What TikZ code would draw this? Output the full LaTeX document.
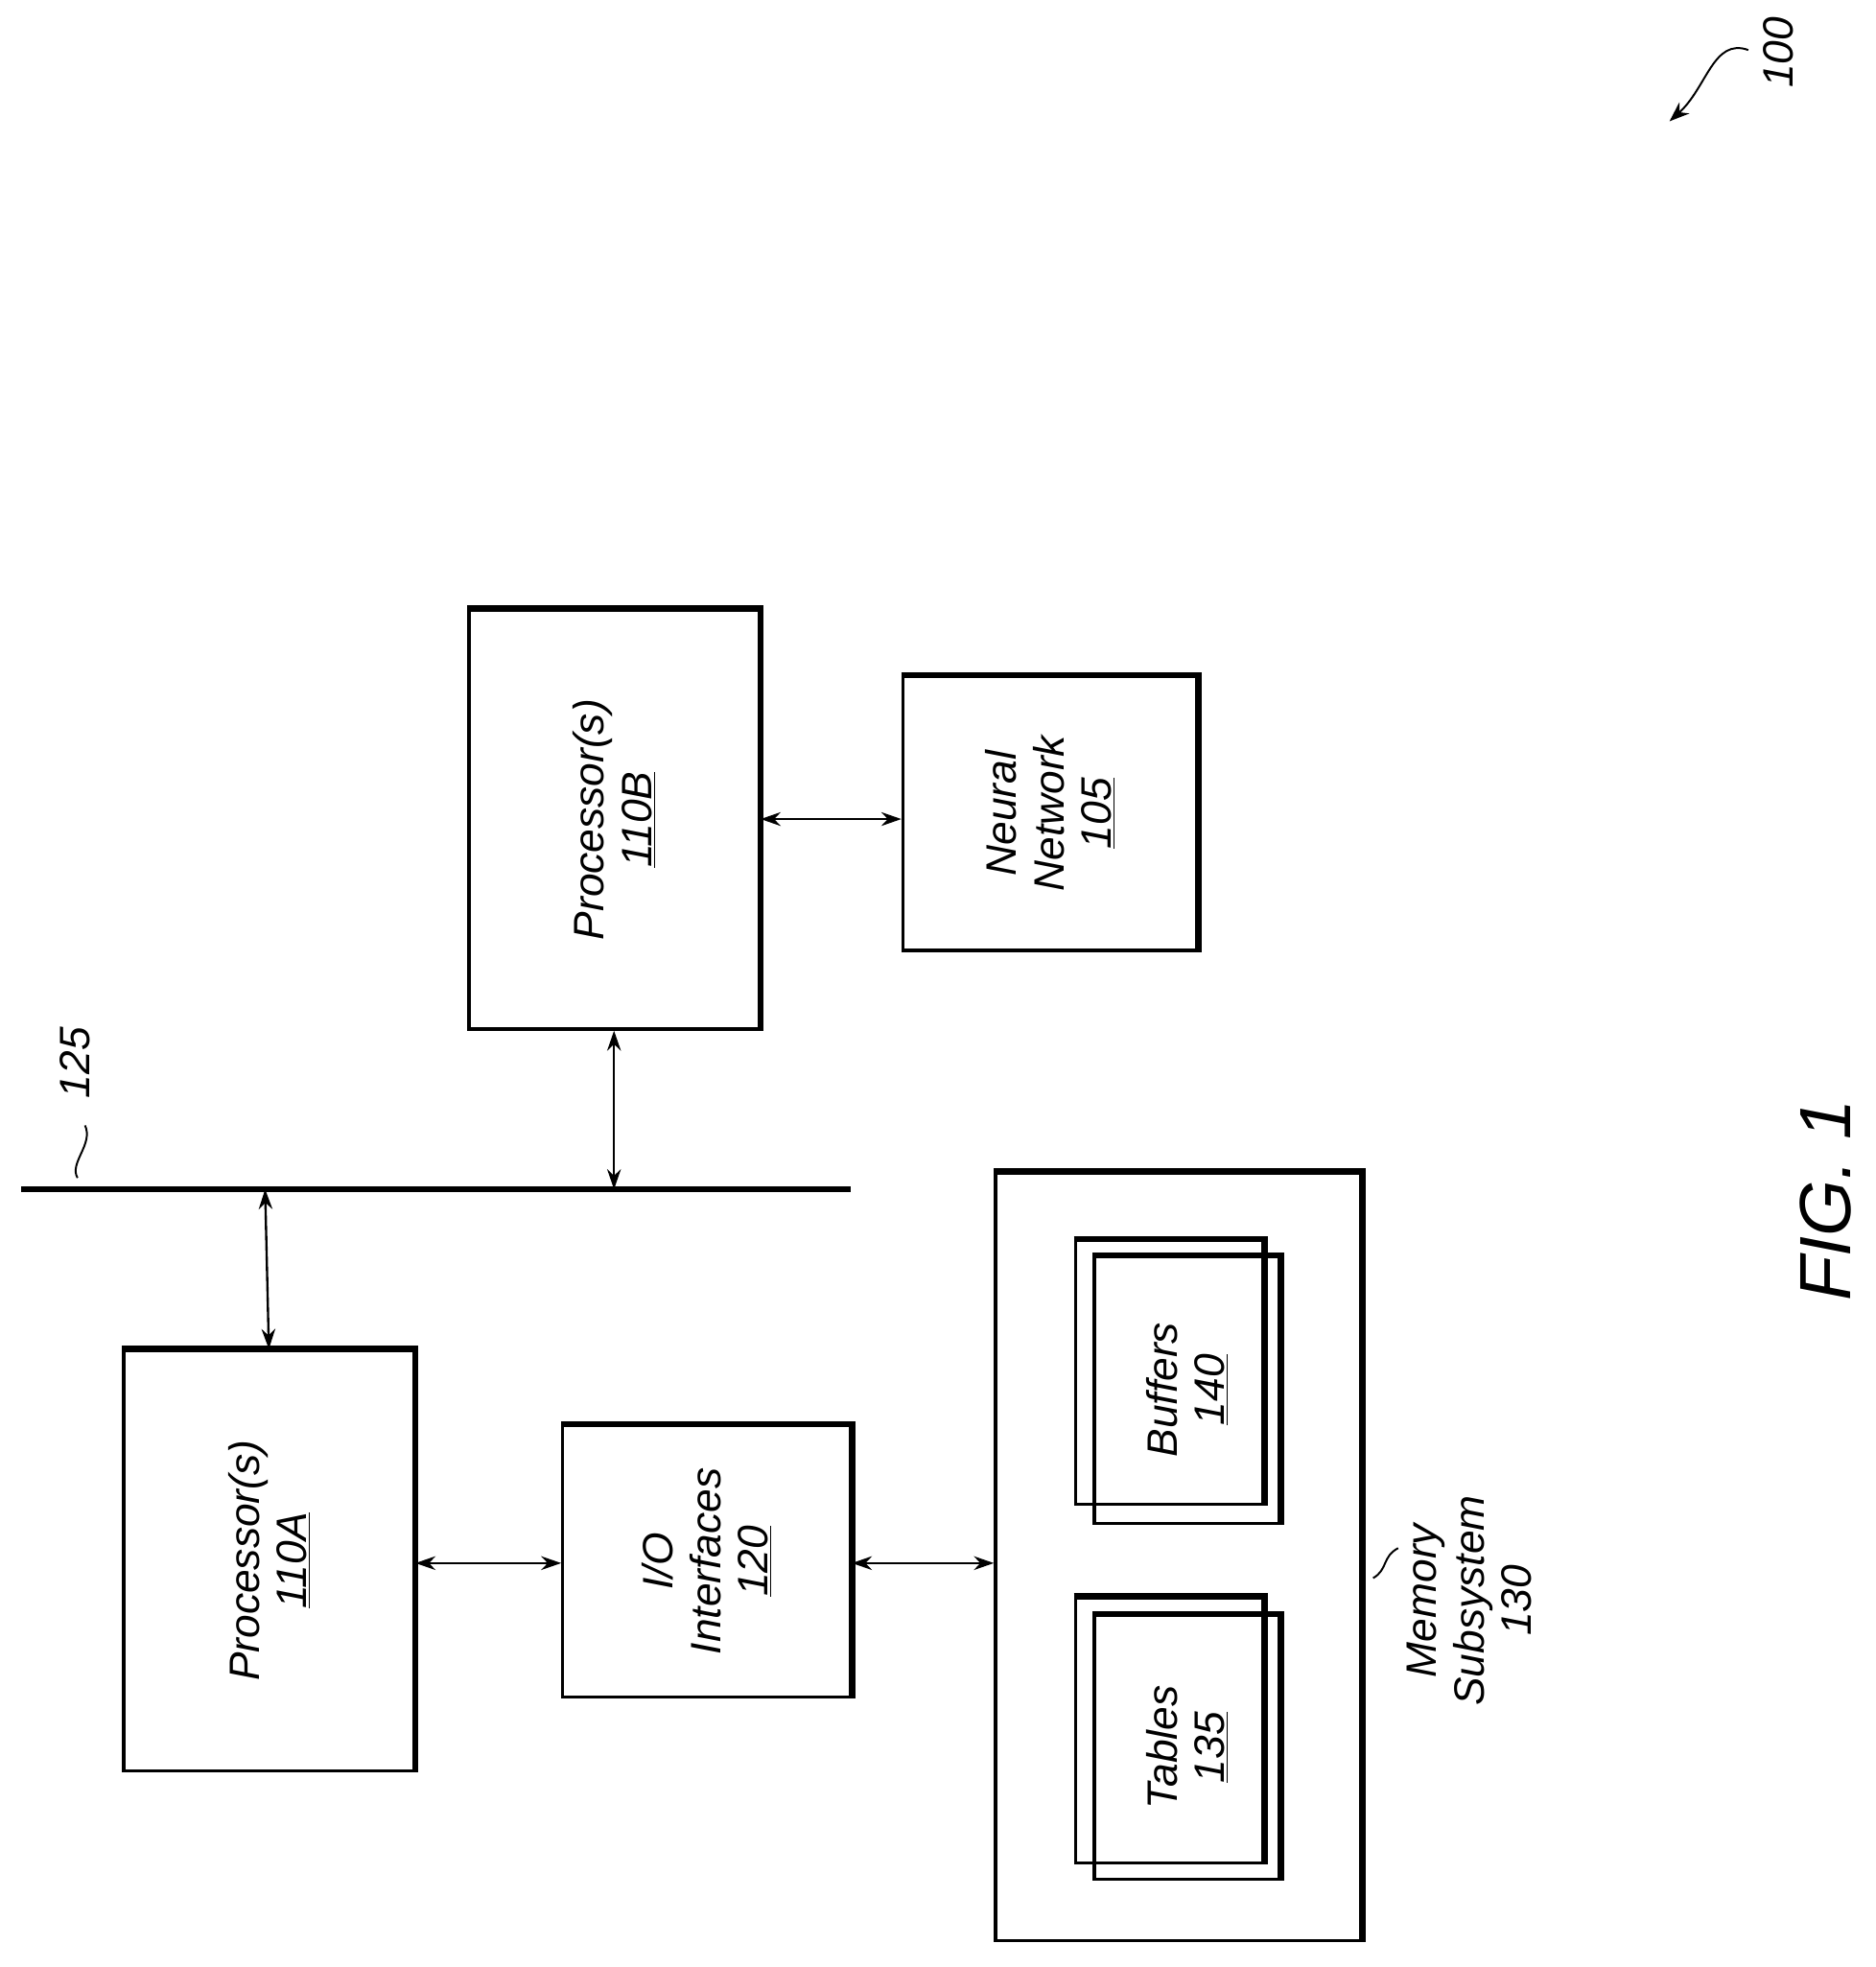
\documentclass[tikz,border=0pt]{standalone}
\usepackage{fontspec}
\setmainfont{Liberation Sans}
\usetikzlibrary{arrows.meta}
\begin{document}
\begin{tikzpicture}[x=1pt,y=-1pt,
  blk/.style={draw,line width=2.5pt,rectangle,inner sep=0pt,font=\itshape\fontsize{34}{38}\selectfont,align=center},
  lbl/.style={font=\itshape\fontsize{34}{38}\selectfont,align=center,rotate=90},
  arr/.style={line width=1.8pt,{Stealth[length=16pt,width=11pt]}-{Stealth[length=16pt,width=11pt]}},
  thk/.style={line width=5pt}]
\useasboundingbox (0,0) rectangle (1500,1573);
\newcommand{\bx}[5]{% name, x1,y1,x2,y2
  \node[blk,minimum width={#4-#2},minimum height={#5-#3}] (#1) at ({(#2+#4)/2},{(#3+#5)/2}) {};
  \draw[thk] (#1.north west)++(0,0) -- (#1.north east) -- (#1.south east);}
% Processor 110B
\bx{pB}{375}{488}{607}{823}
\node[lbl] at (pB) {Processor(s)\\\underline{110B}};
% Neural network
\bx{nn}{722}{541}{957}{760}
\node[lbl] at (nn) {Neural\\Network\\\underline{105}};
% Bus
\coordinate (busL) at (17,951);
\coordinate (busR) at (680,951);
\draw[line width=4pt] (busL) -- (busR);
\coordinate (bB) at (491,951);
\coordinate (bA) at (212,951);
\node[lbl,font=\fontsize{34}{38}\selectfont\itshape] (l125) at (60,850) {125};
\draw[line width=1.5pt] (62,942) .. controls (55,930) and (75,915) .. (68,900);
% Processor 110A
\bx{pA}{99}{1080}{331}{1416}
\node[lbl] at (pA) {Processor(s)\\\underline{110A}};
% I/O
\bx{io}{450}{1140}{680}{1357}
\node[lbl] at (io) {I/O\\Interfaces\\\underline{120}};
% Memory
\bx{mem}{796}{938}{1088}{1552}
\bx{bufb}{860}{992}{1010}{1203}
\bx{buf}{875}{1005}{1023}{1218}
\node[lbl] at (buf) {Buffers\\\underline{140}};
\bx{tabb}{860}{1278}{1010}{1490}
\bx{tab}{875}{1292}{1023}{1503}
\node[lbl] at (tab) {Tables\\\underline{135}};
\node[lbl] (l130) at (1175,1280) {Memory\\Subsystem\\130};
\draw[line width=1.5pt] (1098,1262) .. controls (1110,1255) and (1105,1245) .. (1118,1238);
% arrows
\draw[arr] (pB.south) -- (bB);
\draw[arr] (bA) -- (pA.north);
\draw[arr] (pB.east |- 0,655) -- (nn.west |- 0,655);
\draw[arr] (pA.east |- 0,1250) -- (io.west |- 0,1250);
\draw[arr] (io.east |- 0,1250) -- (mem.west |- 0,1250);
% FIG
\node[rotate=90,font=\itshape\fontsize{58}{62}\selectfont] (fig) at (1460,960) {FIG. 1};
\node[lbl] (l100) at (1422,42) {100};
\coordinate (a100) at (1335,97);
\draw[line width=1.5pt,-{Stealth[length=16pt,width=12pt]}] (1398,40) .. controls (1370,30) and (1365,70) .. (a100);
\end{tikzpicture}
\end{document}
